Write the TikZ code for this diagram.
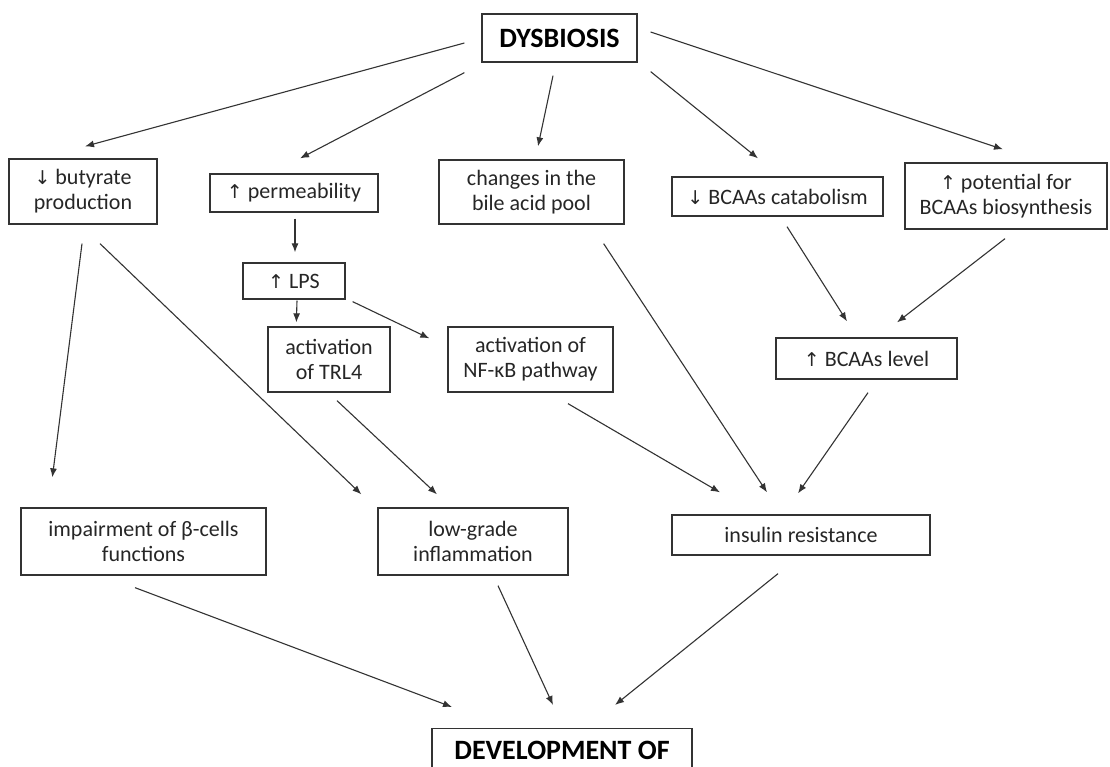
\documentclass[tikz,border=0pt]{standalone}
\usepackage{fontspec}
\setmainfont{Carlito}
\newfontfamily\symfont{DejaVu Sans}
\usetikzlibrary{arrows.meta,calc}
\newcommand{\myup}{{\symfont\fontsize{19}{20}\selectfont\char"2191}}
\newcommand{\mydn}{{\symfont\fontsize{19}{20}\selectfont\char"2193}}
\begin{document}
\begin{tikzpicture}[x=1pt,y=-1pt,
  box/.style={draw=black!80, line width=1.3pt, inner sep=0pt, align=center,
    font=\fontsize{22}{25}\selectfont, text=black!85},
  bigbox/.style={box, font=\fontsize{28}{32}\selectfont\bfseries, text=black},
  arr/.style={draw=black!80, line width=1.1pt, -{Latex[length=9pt,width=7pt]}}]
\clip (0,0) rectangle (1110,766);
\fill[white] (0,0) rectangle (1110,766);
% nodes
\node[bigbox, minimum width=155pt, minimum height=48pt] (dys) at (559.5,38) {DYSBIOSIS};
\node[box, minimum width=148pt, minimum height=65pt] (but) at (83,191.5) {\mydn\ butyrate\\production};
\node[box, minimum width=168pt, minimum height=38pt] (perm) at (294,193) {\myup\ permeability};
\node[box, minimum width=185pt, minimum height=64pt] (bile) at (531.5,192) {changes in the\\bile acid pool};
\node[box, minimum width=211pt, minimum height=39pt] (cat) at (777.5,196.5) {\mydn\ BCAAs catabolism};
\node[box, minimum width=202pt, minimum height=66pt] (pot) at (1006,196) {\myup\ potential for\\BCAAs biosynthesis};
\node[box, minimum width=102pt, minimum height=36pt] (lps) at (294,281) {\myup\ LPS};
\node[box, minimum width=122pt, minimum height=65pt] (trl) at (329,359.5) {activation\\of TRL4};
\node[box, minimum width=165pt, minimum height=65pt] (nfkb) at (530.5,359.5) {activation of\\NF-κB pathway};
\node[box, minimum width=181pt, minimum height=41pt] (lvl) at (866.5,358.5) {\myup\ BCAAs level};
\node[box, minimum width=245pt, minimum height=67pt] (imp) at (143.5,541.5) {impairment of β-cells\\functions};
\node[box, minimum width=190pt, minimum height=67pt] (low) at (473,541.5) {low-grade\\inflammation};
\node[box, minimum width=258pt, minimum height=40pt] (ins) at (801,535) {insulin resistance};
\node[bigbox, minimum width=260pt, text height=31pt, text depth=40pt, inner ysep=0pt, anchor=north] (dev) at (562,728) {DEVELOPMENT OF};
% connectors
\draw[arr] ($(dys.west)+(-17,5)$) -- ($(but.north)+(2,-12)$);
\draw[arr] ($(dys.south west)+(-17,10)$) -- ($(perm.north)+(6,-15)$);
\draw[arr] ($(dys.south)+(-6.5,13)$) -- ($(bile.north)+(6.5,-13)$);
\draw[arr] ($(dys.south east)+(13,9)$) -- ($(cat.north)+(-19.5,-18)$);
\draw[arr] ($(dys.east)+(13,-6)$) -- ($(pot.north)+(-3,-13)$);
\draw[arr] ($(but.south)+(-1,19)$) -- ($(imp.north west)+(32,-30)$);
\draw[arr] ($(but.south)+(17,19)$) -- ($(low.north west)+(-16,-13)$);
\draw[arr] ($(perm.south)+(1,6)$) -- ($(lps.north)+(1,-10)$);
\draw[arr] ($(lps.south)+(3,1)$) -- ($(trl.north west)+(29,-4)$);
\draw[arr] ($(lps.south east)+(7,2)$) -- ($(nfkb.north west)+(-18,12)$);
\draw[arr] ($(trl.south)+(8,8)$) -- ($(low.north)+(-36,-13)$);
\draw[arr] ($(bile.south east)+(-21,19)$) -- ($(ins.north)+(-34,-22)$);
\draw[arr] ($(nfkb.south)+(37.5,11)$) -- ($(ins.north)+(-81,-22)$);
\draw[arr] ($(lvl.south)+(1.5,13)$) -- ($(ins.north)+(-3,-21)$);
\draw[arr] ($(cat.south)+(9.5,10)$) -- ($(lvl.north)+(-19.5,-16)$);
\draw[arr] ($(pot.south)+(-1,9)$) -- ($(lvl.north)+(30.5,-15)$);
\draw[arr] ($(imp.south)+(-8.5,12)$) -- ($(dev.north)+(-110,-21)$);
\draw[arr] ($(low.south)+(25,10)$) -- ($(dev.north)+(-9,-23)$);
\draw[arr] ($(ins.south)+(-23,18)$) -- ($(dev.north)+(53,-23)$);
\end{tikzpicture}
\end{document}
